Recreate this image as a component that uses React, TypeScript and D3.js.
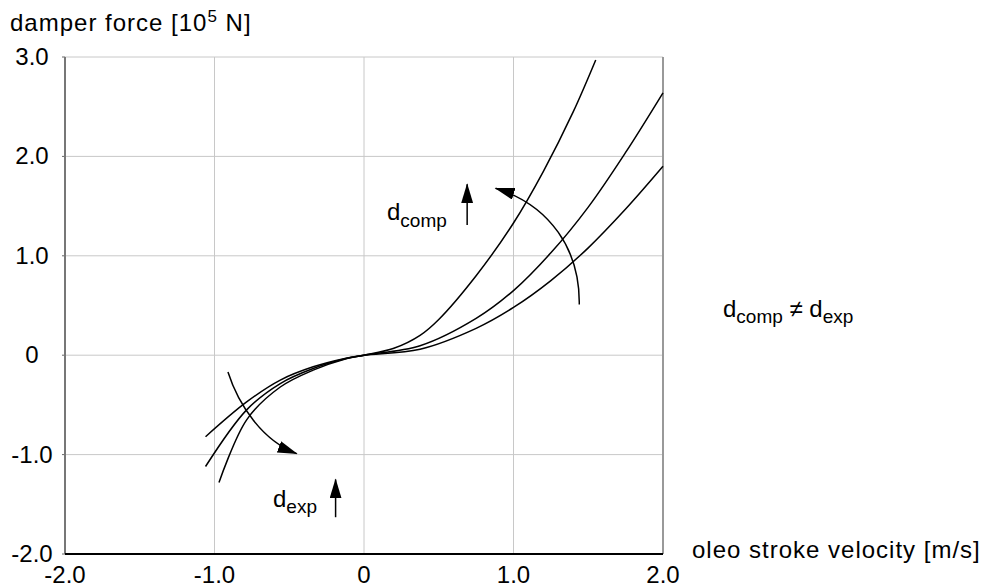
import React from 'react'
import * as d3 from 'd3'

// tick values / labels
const xTicks = [-2, -1, 0, 1, 2]
const xTickLabels = ['-2.0', '-1.0', '0', '1.0', '2.0']
const yTicks = [-2, -1, 0, 1, 2, 3]
const yTickLabels = ['-2.0', '-1.0', '0', '1.0', '2.0', '3.0']

// three damper curves (velocity m/s, force 1e5 N)
const velocityA = [-0.97, -0.785, -0.56, -0.34, -0.12, 0, 0.2, 0.375, 0.5, 0.75, 1.0, 1.2, 1.4, 1.55]
const forceA = [-1.28, -0.65, -0.32, -0.15, -0.035, 0, 0.07, 0.2, 0.36, 0.8, 1.33, 1.85, 2.45, 2.97]

const velocityB = [-1.06, -0.785, -0.56, -0.34, -0.12, 0, 0.375, 0.75, 1.0, 1.25, 1.5, 1.75, 2.0]
const forceB = [-1.12, -0.55, -0.285, -0.134, -0.034, 0, 0.095, 0.37, 0.65, 1.03, 1.49, 2.04, 2.64]

const velocityC = [-1.06, -0.785, -0.56, -0.34, -0.12, 0, 0.375, 0.75, 1.0, 1.25, 1.5, 1.75, 2.0]
const forceC = [-0.82, -0.47, -0.25, -0.117, -0.03, 0, 0.06, 0.27, 0.48, 0.75, 1.08, 1.47, 1.9]

const W = 986
const H = 588
const FONT = '"Liberation Sans", Arial, Helvetica, sans-serif'

const x = d3.scaleLinear().domain([-2, 2]).range([65, 663])
const y = d3.scaleLinear().domain([-2, 3]).range([554, 57])

const line = d3
  .line<[number, number]>()
  .x(d => x(d[0]))
  .y(d => y(d[1]))
  .curve(d3.curveCatmullRom.alpha(0.5))

const curves = [
  d3.zip(velocityA, forceA) as [number, number][],
  d3.zip(velocityB, forceB) as [number, number][],
  d3.zip(velocityC, forceC) as [number, number][],
]

// cubic bezier given in data units
function bezier(pts: number[][]) {
  const p = pts.map(d => [x(d[0]), y(d[1])])
  return `M${p[0][0]},${p[0][1]}C${p[1][0]},${p[1][1]} ${p[2][0]},${p[2][1]} ${p[3][0]},${p[3][1]}`
}

const compArc = [[1.44, 0.51], [1.445, 1.06], [1.245, 1.51], [0.88, 1.68]]
const expArc = [[-0.91, -0.17], [-0.84, -0.5], [-0.68, -0.86], [-0.45, -0.99]]

export default function App() {
  return (
    <div style={{ position: 'absolute', left: 0, top: 0 }}>
      <svg width={W} height={H} style={{ display: 'block', background: '#fff' }} fontFamily={FONT}>
        <defs>
          <marker
            id="head"
            viewBox="0 0 20 12"
            refX={19}
            refY={6}
            markerWidth={20}
            markerHeight={12}
            markerUnits="userSpaceOnUse"
            orient="auto"
          >
            <path d="M0,0 L20,6 L0,12 z" fill="#000" />
          </marker>
        </defs>

        {/* grid */}
        {xTicks.map(t => (
          <line key={'gx' + t} x1={x(t)} x2={x(t)} y1={y(3)} y2={y(-2)} stroke="#c8c8c8" strokeWidth={1} />
        ))}
        {yTicks.map(t => (
          <line key={'gy' + t} x1={x(-2)} x2={x(2)} y1={y(t)} y2={y(t)} stroke="#c8c8c8" strokeWidth={1} />
        ))}
        {yTicks.map(t => (
          <line key={'tk' + t} x1={x(-2) - 3} x2={x(-2)} y1={y(t)} y2={y(t)} stroke="#666" strokeWidth={1} />
        ))}

        {/* frame */}
        <line x1={x(2)} x2={x(2)} y1={y(3)} y2={y(-2)} stroke="#999" strokeWidth={2} />
        <line x1={x(-2)} x2={x(-2)} y1={y(3)} y2={y(-2)} stroke="#777" strokeWidth={2} />
        <line x1={x(-2)} x2={x(2)} y1={y(-2)} y2={y(-2)} stroke="#000" strokeWidth={2} />

        {/* tick labels */}
        {yTicks.map((t, i) => (
          <text key={'ly' + t} x={32} y={y(t) + 8} fontSize={24} textAnchor="middle" fill="#000">
            {yTickLabels[i]}
          </text>
        ))}
        {xTicks.map((t, i) => (
          <text key={'lx' + t} x={x(t)} y={583} fontSize={24} textAnchor="middle" fill="#000">
            {xTickLabels[i]}
          </text>
        ))}

        {/* axis titles */}
        <text x={10} y={31} fontSize={24} letterSpacing={1} fill="#000">
          damper force [10
          <tspan fontSize={17} dy={-9}>5</tspan>
          <tspan dy={9}> N]</tspan>
        </text>
        <text x={692} y={558} fontSize={24} letterSpacing={1} fill="#000">
          oleo stroke velocity [m/s]
        </text>

        {/* curves */}
        {curves.map((c, i) => (
          <path key={'c' + i} d={line(c) || ''} fill="none" stroke="#000" strokeWidth={1.5} />
        ))}

        {/* annotation arrows */}
        <path d={bezier(compArc)} fill="none" stroke="#000" strokeWidth={1.5} markerEnd="url(#head)" />
        <path d={bezier(expArc)} fill="none" stroke="#000" strokeWidth={1.5} markerEnd="url(#head)" />
        <line x1={x(0.69)} x2={x(0.69)} y1={y(1.31)} y2={y(1.72)} stroke="#000" strokeWidth={1.5} markerEnd="url(#head)" />
        <line x1={x(-0.19)} x2={x(-0.19)} y1={y(-1.63)} y2={y(-1.25)} stroke="#000" strokeWidth={1.5} markerEnd="url(#head)" />

        {/* labels */}
        <text x={387} y={220} fontSize={24} fill="#000">
          d<tspan fontSize={19} dy={7}>comp</tspan>
        </text>
        <text x={273} y={507} fontSize={24} fill="#000">
          d<tspan fontSize={19} dy={6}>exp</tspan>
        </text>
        <text x={723} y={317} fontSize={24} fill="#000">
          d<tspan fontSize={19} dy={6}>comp</tspan>
          <tspan dy={-6}> ≠ d</tspan>
          <tspan fontSize={19} dy={6}>exp</tspan>
        </text>
      </svg>
    </div>
  )
}
